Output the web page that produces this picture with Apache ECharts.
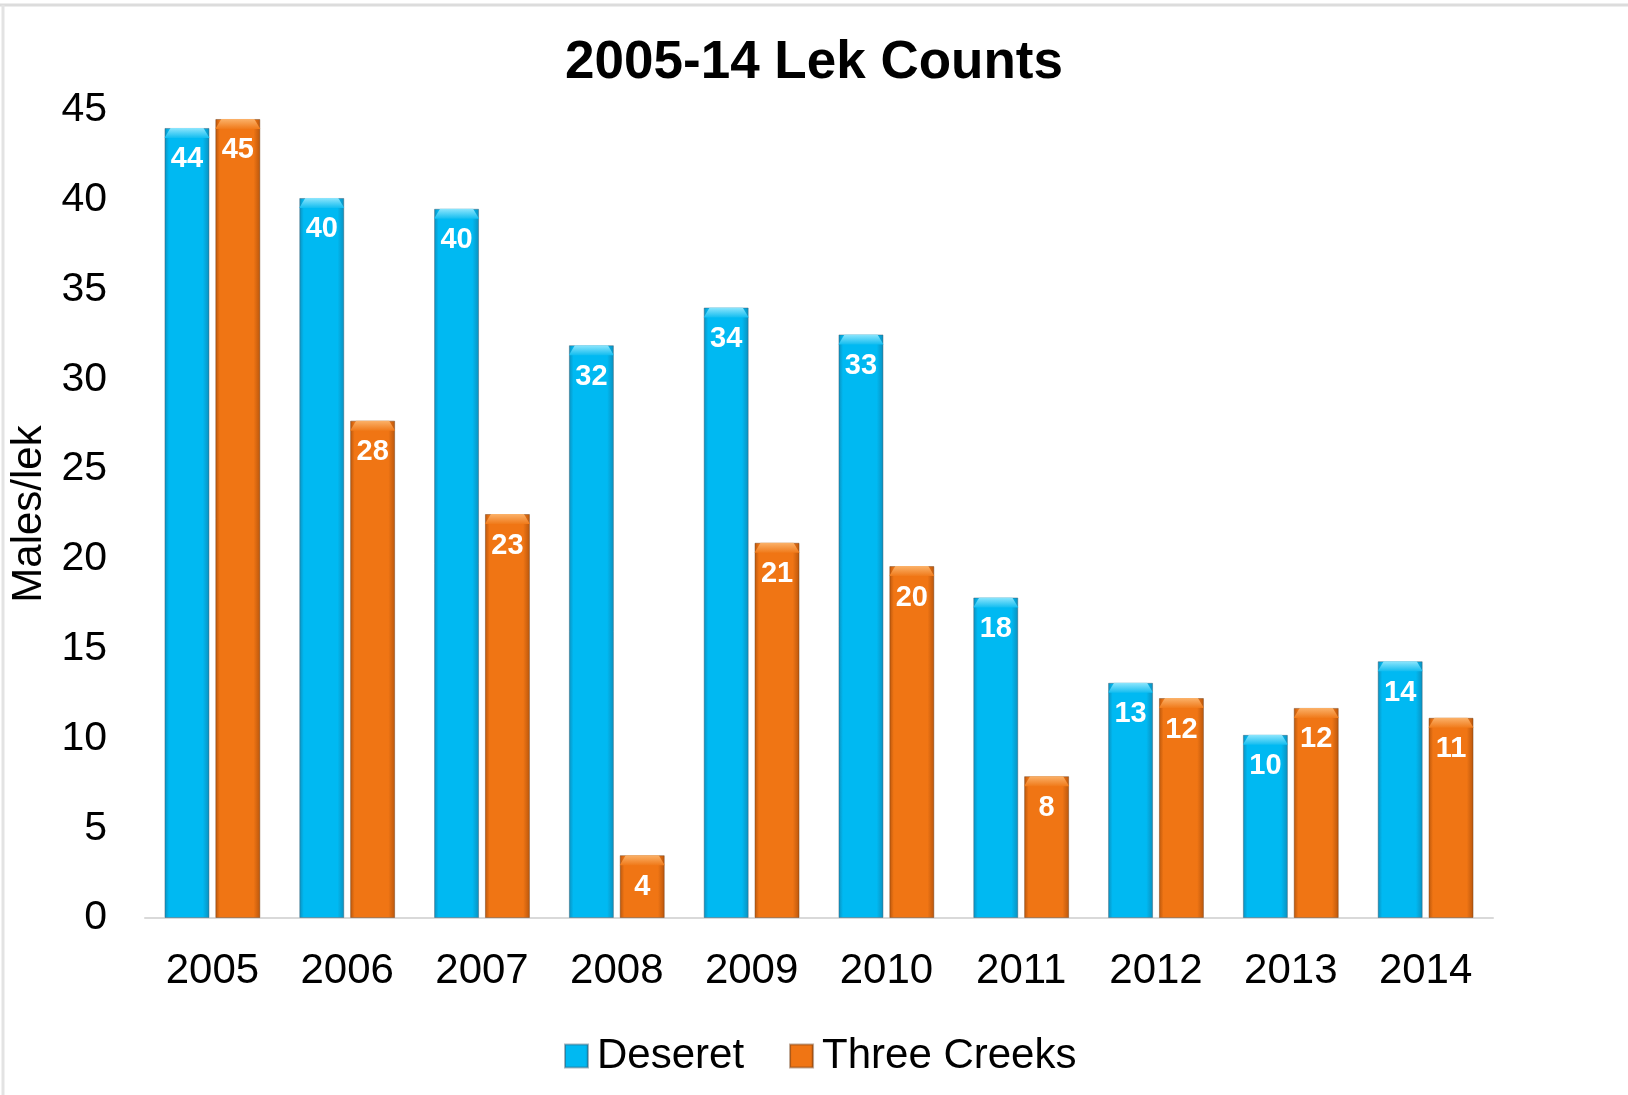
<!DOCTYPE html>
<html>
<head>
<meta charset="utf-8">
<script src="https://cdn.jsdelivr.net/npm/echarts@6/dist/echarts.min.js"></script>
<style>
html,body{margin:0;padding:0;background:#fff;}
#chart{width:1628px;height:1095px;}
</style>
</head>
<body>
<div id="chart"></div>
<script>
const categories = ['2005','2006','2007','2008','2009','2010','2011','2012','2013','2014'];
const deseret = [44, 40.1, 39.5, 31.9, 34.0, 32.5, 17.85, 13.1, 10.2, 14.3];
const threeCreeks = [44.5, 27.7, 22.5, 3.5, 20.9, 19.6, 7.9, 12.25, 11.7, 11.15];
const yTicks = [0, 5, 10, 15, 20, 25, 30, 35, 40, 45];

const FONT = 'Liberation Sans, Arial, sans-serif';
function hGrad(edge, mid) {
  return new echarts.graphic.LinearGradient(0, 0, 1, 0, [
    {offset: 0, color: edge}, {offset: 0.1, color: mid},
    {offset: 0.85, color: mid}, {offset: 1, color: edge}
  ]);
}
function vGrad(top, bottom) {
  return new echarts.graphic.LinearGradient(0, 0, 0, 1, [
    {offset: 0, color: top}, {offset: 1, color: bottom}
  ]);
}
const BLUE = '#00b9f2', BLUE_EDGE = '#0b8fbd';
const ORANGE = '#f07514', ORANGE_EDGE = '#b9560c';

const chart = echarts.init(document.getElementById('chart'), null, {renderer: 'canvas'});
const barCommon = {
  type: 'bar', barWidth: 45, barGap: '13%', barCategoryGap: '30%',
  label: {
    show: true, position: 'insideTop', distance: 17,
    color: '#ffffff', fontFamily: FONT, fontWeight: 'bold', fontSize: 29,
    formatter: p => String(Math.round(p.value))
  },
  emphasis: {disabled: true}
};
const capCommon = {
  type: 'pictorialBar', barWidth: 45, barGap: '13%', barCategoryGap: '30%',
  symbol: 'path://M0,10 L6,0 L39,0 L45,10 Z', symbolSize: ['100%', 10], symbolPosition: 'end',
  silent: true, z: 3, label: {show: false}
};
chart.setOption({
  backgroundColor: '#ffffff',
  animation: false,
  title: {
    text: '2005-14 Lek Counts', left: 'center', top: 32,
    textStyle: {fontFamily: FONT, fontWeight: 'bold', fontSize: 53, color: '#000'}
  },
  legend: {
    data: ['Deseret', 'Three Creeks'], left: 559, top: 1030,
    icon: 'rect', itemWidth: 23, itemHeight: 23, itemGap: 45,
    textStyle: {fontFamily: FONT, fontSize: 42, color: '#000', padding: [0, 0, 0, 4]}
  },
  grid: {left: 145, right: 135, top: 110, bottom: 177, containLabel: false},
  xAxis: {
    type: 'category', data: categories,
    axisLine: {show: true, lineStyle: {color: '#d9d9d9', width: 2}},
    axisTick: {show: false},
    axisLabel: {fontFamily: FONT, fontSize: 42, color: '#000', margin: 32}
  },
  yAxis: {
    type: 'value', min: 0, max: 45, interval: 5,
    name: 'Males/lek', nameLocation: 'middle', nameGap: 86,
    nameTextStyle: {fontFamily: FONT, fontSize: 42, color: '#000'},
    axisLine: {show: false}, axisTick: {show: false}, splitLine: {show: false},
    axisLabel: {fontFamily: FONT, fontSize: 41, color: '#000', margin: 38,
      formatter: v => yTicks.includes(v) ? String(v) : ''}
  },
  graphic: [
    {type: 'line', shape: {x1: 0, y1: 5, x2: 1628, y2: 5}, style: {stroke: '#dcdcdc', lineWidth: 3}, silent: true},
    {type: 'line', shape: {x1: 3, y1: 5, x2: 3, y2: 1095}, style: {stroke: '#e3e3e3', lineWidth: 3}, silent: true}
  ],
  series: [
    Object.assign({}, barCommon, {name: 'Deseret', data: deseret,
      itemStyle: {color: hGrad(BLUE_EDGE, BLUE), borderColor: 'rgba(60,90,110,0.45)', borderWidth: 1}}),
    Object.assign({}, barCommon, {name: 'Three Creeks', data: threeCreeks,
      itemStyle: {color: hGrad(ORANGE_EDGE, ORANGE), borderColor: 'rgba(110,60,20,0.45)', borderWidth: 1}}),
    Object.assign({}, capCommon, {name: 'capD', data: deseret,
      itemStyle: {color: vGrad('#8fe6fd', '#12bdf0')}}),
    Object.assign({}, capCommon, {name: 'capT', data: threeCreeks,
      itemStyle: {color: vGrad('#fbb26a', '#f07a1a')}})
  ]
});
</script>
</body>
</html>
